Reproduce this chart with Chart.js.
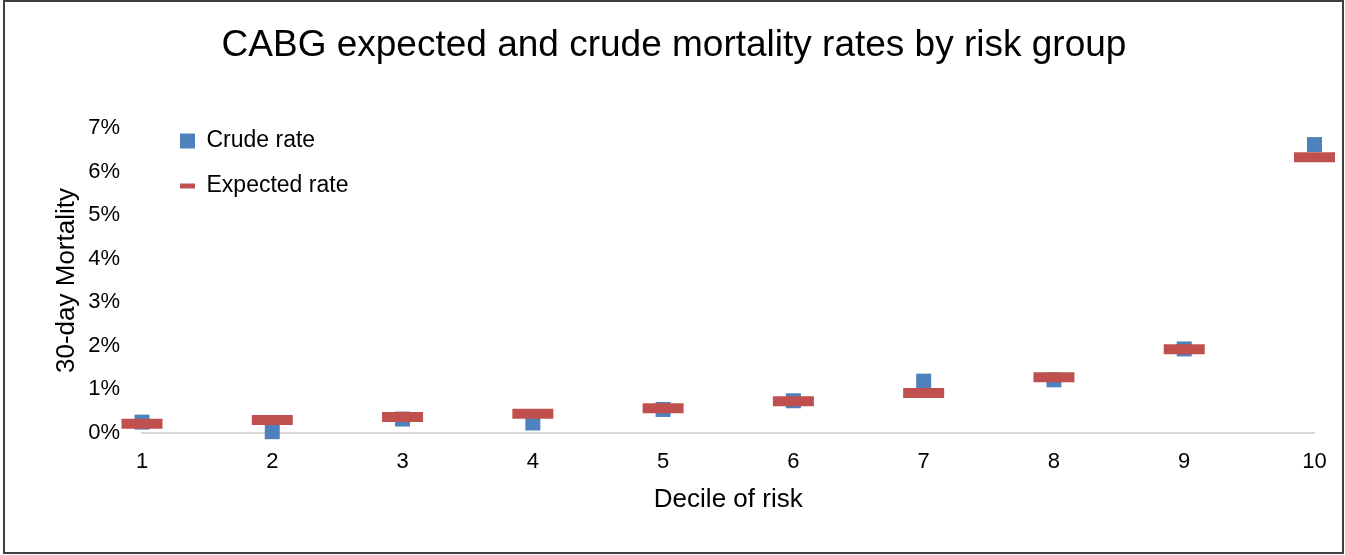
<!DOCTYPE html>
<html>
<head>
<meta charset="utf-8">
<script src="https://cdn.jsdelivr.net/npm/chart.js@4.4.1/dist/chart.umd.min.js"></script>
<style>
  html, body { margin: 0; padding: 0; background: #fff; }
  #marco { position: relative; width: 1345px; height: 555px; }
  #grafico { position: absolute; left: 0; top: 0; }
  #borde {
    position: absolute; left: 3px; top: 0; width: 1341px; height: 554px;
    box-sizing: border-box; border: 2px solid #404040; pointer-events: none;
  }
</style>
</head>
<body>
<div id="marco">
  <canvas id="grafico" width="1345" height="555"></canvas>
  <div id="borde"></div>
</div>
<script>
// Datos (porcentajes)
const deciles = ['1', '2', '3', '4', '5', '6', '7', '8', '9', '10'];
const tasaCruda = [0.25, 0.03, 0.32, 0.23, 0.54, 0.74, 1.19, 1.22, 1.93, 6.62];
const tasaEsperada = [0.21, 0.30, 0.37, 0.44, 0.57, 0.73, 0.92, 1.28, 1.92, 6.33];

const azul = '#4F81BD';
const rojo = '#C0504D';
const fuente = '"Liberation Sans", Arial, sans-serif';

// Mover la leyenda dentro del area del grafico (arriba a la izquierda)
const moverLeyenda = {
    id: 'moverLeyenda',
    afterLayout(chart) {
        const ley = chart.legend;
        const area = chart.chartArea;
        ley.left = area.left + 16;
        ley.top = area.top - 20.5;
        ley.right = ley.left + 300;
        ley.bottom = ley.top + 200;
    }
};

new Chart(document.getElementById('grafico'), {
    type: 'line',
    data: {
        labels: deciles,
        datasets: [{
            label: 'Crude rate',
            data: tasaCruda,
            showLine: false,
            pointStyle: 'rect',
            pointRadius: 10.6,
            pointHoverRadius: 10.6,
            pointBorderWidth: 0,
            backgroundColor: azul,
            borderColor: azul,
            order: 2,
            clip: false
        }, {
            label: 'Expected rate',
            data: tasaEsperada,
            showLine: false,
            pointStyle: 'line',
            pointRadius: 20.5,
            pointHoverRadius: 20.5,
            pointBorderWidth: 10,
            pointHoverBorderWidth: 10,
            backgroundColor: rojo,
            borderColor: rojo,
            order: 1,
            clip: false
        }]
    },
    options: {
        responsive: false,
        animation: false,
        layout: { padding: { left: 33, right: 30, top: 0, bottom: 0 } },
        plugins: {
            title: {
                display: true,
                text: 'CABG expected and crude mortality rates by risk group',
                color: '#000',
                font: { family: fuente, size: 37, weight: 'normal' },
                padding: { top: 24, bottom: 59.6 }
            },
            legend: {
                position: 'chartArea',
                align: 'start',
                labels: {
                    color: '#000',
                    font: { family: fuente, size: 23 },
                    padding: 22,
                    usePointStyle: true,
                    pointStyleWidth: 15,
                    boxHeight: 15,
                    sort: (a, b) => a.datasetIndex - b.datasetIndex,
                    generateLabels: function(chart) {
                        return [{
                            text: 'Crude rate', fillStyle: azul, strokeStyle: azul,
                            lineWidth: 0, pointStyle: 'rect', datasetIndex: 0
                        }, {
                            text: 'Expected rate', fillStyle: rojo, strokeStyle: rojo,
                            lineWidth: 5, pointStyle: 'line', datasetIndex: 1
                        }];
                    }
                }
            },
            tooltip: { enabled: false }
        },
        scales: {
            x: {
                offset: false,
                grid: { display: false, drawTicks: false },
                border: { display: true, color: '#d9d9d9', width: 2 },
                ticks: { color: '#000', font: { family: fuente, size: 22 }, padding: 16, maxRotation: 0 },
                title: {
                    display: true, text: 'Decile of risk', color: '#000',
                    font: { family: fuente, size: 26 }, padding: { top: 0, bottom: 40 }
                },
                afterFit: function(escala) { escala.height = 122; }
            },
            y: {
                min: 0,
                max: 7,
                grid: { display: false, drawTicks: false },
                border: { display: false },
                ticks: {
                    stepSize: 1, color: '#000', padding: 22,
                    font: { family: fuente, size: 22 },
                    callback: function(valor) { return valor + '%'; }
                },
                title: {
                    display: true, text: '30-day Mortality', color: '#000',
                    font: { family: fuente, size: 26 }, padding: { top: 18, bottom: 0 }
                },
                afterFit: function(escala) { escala.width = 109; }
            }
        }
    },
    plugins: [moverLeyenda]
});
</script>
</body>
</html>
